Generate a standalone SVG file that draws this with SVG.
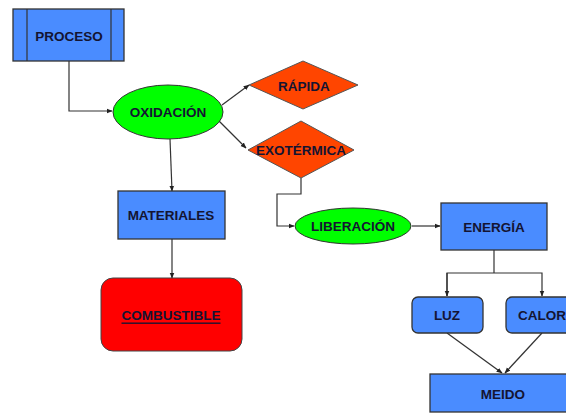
<svg xmlns="http://www.w3.org/2000/svg" width="566" height="413" viewBox="0 0 566 413">
<defs>
<style>
.t{font-family:"Liberation Sans",Arial,sans-serif;font-weight:bold;font-size:13.5px;fill:#141432;text-anchor:middle;dominant-baseline:central}
.b{fill:#4a8cff;stroke:#333;stroke-width:1.3}
.g{fill:#00ff00;stroke:#333;stroke-width:1}
.r{fill:#ff4500;stroke:#555;stroke-width:1}
.c{fill:none;stroke:#333;stroke-width:1.2}
</style>
<marker id="a" viewBox="0 0 10 10" refX="9" refY="5" markerWidth="6" markerHeight="6" orient="auto" markerUnits="userSpaceOnUse">
<path d="M0,1 L10,5 L0,9 z" fill="#222"/>
</marker>
</defs>
<rect width="566" height="413" fill="#fff"/>
<g id="connectors">
<polyline class="c" points="69,61 69,111 112,111" marker-end="url(#a)"/>
<line class="c" x1="222" y1="105" x2="249" y2="85" marker-end="url(#a)"/>
<line class="c" x1="219" y1="121" x2="246" y2="148" marker-end="url(#a)"/>
<line class="c" x1="170" y1="139" x2="172" y2="191" marker-end="url(#a)"/>
<line class="c" x1="172" y1="239" x2="172" y2="278" marker-end="url(#a)"/>
<polyline class="c" points="301,178 301,194 277,194 277,226 294,226" marker-end="url(#a)"/>
<line class="c" x1="412" y1="226" x2="440" y2="226" marker-end="url(#a)"/>
<line class="c" x1="494" y1="250" x2="494" y2="273"/>
<polyline class="c" points="447,296 447,273 542,273 542,296" marker-end="url(#a)"/>
<line class="c" x1="447" y1="273" x2="447" y2="296" marker-end="url(#a)"/>
<line class="c" x1="447" y1="333" x2="502" y2="373" marker-end="url(#a)"/>
<line class="c" x1="542" y1="333" x2="505" y2="373" marker-end="url(#a)"/>
</g>
<g id="proceso">
<rect class="b" x="13" y="9" width="111" height="52"/>
<line x1="27" y1="9" x2="27" y2="61" stroke="#333" stroke-width="1.2"/>
<line x1="111" y1="9" x2="111" y2="61" stroke="#333" stroke-width="1.2"/>
<text class="t" x="69" y="36">PROCESO</text>
</g>
<g id="oxidacion">
<ellipse class="g" cx="168" cy="112" rx="55" ry="27"/>
<text class="t" x="168" y="112">OXIDACIÓN</text>
</g>
<g id="rapida">
<polygon class="r" points="249,85 303,61 358,85 303,109"/>
<text class="t" x="304" y="86">RÁPIDA</text>
</g>
<g id="exotermica">
<polygon class="r" points="248,150 301,121 354,150 301,178"/>
<text class="t" x="301" y="150">EXOTÉRMICA</text>
</g>
<g id="materiales">
<rect class="b" x="118" y="191" width="107" height="48"/>
<text class="t" x="171" y="215">MATERIALES</text>
</g>
<g id="combustible">
<rect x="101" y="278" width="141" height="73" rx="12" fill="#ff0000" stroke="#444" stroke-width="1"/>
<text class="t" x="171" y="315" text-decoration="underline">COMBUSTIBLE</text>
</g>
<g id="liberacion">
<ellipse class="g" cx="353" cy="226" rx="58" ry="18"/>
<text class="t" x="353" y="226">LIBERACIÓN</text>
</g>
<g id="energia">
<rect class="b" x="441" y="203" width="106" height="47"/>
<text class="t" x="494" y="227">ENERGÍA</text>
</g>
<g id="luz">
<rect class="b" x="412" y="297" width="71" height="36" rx="6"/>
<text class="t" x="447" y="315">LUZ</text>
</g>
<g id="calor">
<rect class="b" x="506" y="297" width="72" height="36" rx="6"/>
<text class="t" x="542" y="315">CALOR</text>
</g>
<g id="meido">
<rect class="b" x="430" y="374" width="146" height="38"/>
<text class="t" x="503" y="394">MEIDO</text>
</g>
</svg>
